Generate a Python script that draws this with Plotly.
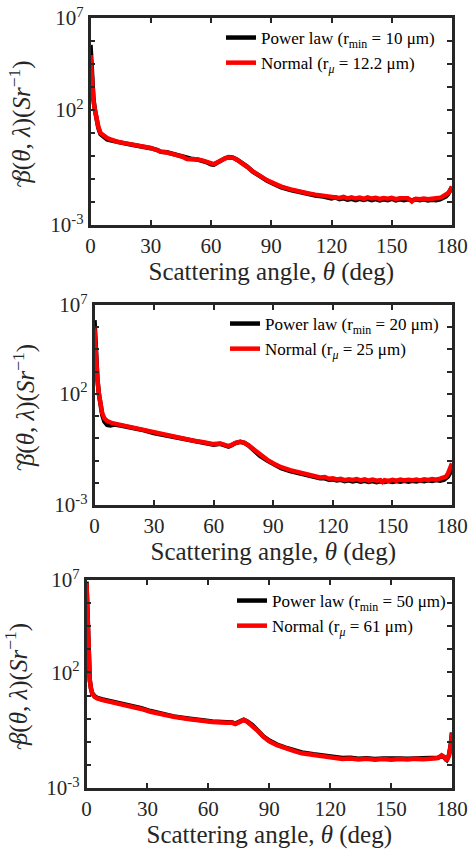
import numpy as np
import plotly.graph_objects as go

# ---------------- data (log10 of beta) ----------------
# Panel 1
theta_p1_red = [0, 0.5, 1, 1.5, 2.2, 3, 3.9, 5, 6.5, 8.3, 10, 13.3, 17, 20, 24, 27, 30, 33, 35, 38, 41, 43, 46, 48, 50, 53, 56, 58, 60, 61.4, 63, 65, 67, 69, 71, 73, 75, 78, 81, 84.7, 88, 91.3, 95, 99.7, 104, 108, 112, 116, 118, 120, 122, 124, 126, 128, 130, 132, 134, 136, 138, 140, 142, 144, 146, 148, 150, 152, 154, 156, 158, 159, 160, 161, 162, 164, 166, 168, 170, 172, 174, 175, 176, 177, 178, 179, 180]
logb_p1_red = [4.39, 3.6, 2.9, 2.4, 2.0, 1.6, 1.27, 1.0, 0.88, 0.78, 0.72, 0.62, 0.56, 0.52, 0.46, 0.40, 0.35, 0.26, 0.19, 0.15, 0.10, 0.04, -0.04, -0.13, -0.14, -0.14, -0.20, -0.26, -0.32, -0.35, -0.28, -0.17, -0.10, -0.06, -0.08, -0.17, -0.28, -0.47, -0.68, -0.90, -1.06, -1.19, -1.33, -1.45, -1.55, -1.62, -1.68, -1.72, -1.74, -1.78, -1.76, -1.82, -1.78, -1.84, -1.80, -1.85, -1.81, -1.86, -1.80, -1.85, -1.82, -1.87, -1.83, -1.86, -1.82, -1.88, -1.84, -1.86, -1.84, -1.90, -1.98, -1.90, -1.86, -1.88, -1.85, -1.88, -1.86, -1.87, -1.82, -1.78, -1.74, -1.70, -1.62, -1.50, -1.33]
theta_p1_black = [0, 0.5, 1, 1.5, 2.2, 3, 3.9, 5, 6.5, 8.3, 10, 13.3, 17, 20, 24, 27, 30, 33, 35, 38, 41, 43, 46, 48, 50, 53, 56, 58, 60, 61.4, 63, 65, 67, 69, 71, 73, 75, 78, 81, 84.7, 88, 91.3, 95, 99.7, 104, 108, 112, 116, 118, 120, 122, 124, 126, 128, 130, 132, 134, 136, 138, 140, 142, 144, 146, 148, 150, 152, 154, 156, 158, 160, 162, 164, 166, 168, 170, 172, 174, 176, 177, 178, 179, 180]
logb_p1_black = [4.83, 3.8, 3.0, 2.45, 2.0, 1.58, 1.22, 0.95, 0.82, 0.72, 0.68, 0.60, 0.55, 0.50, 0.45, 0.38, 0.34, 0.27, 0.18, 0.16, 0.08, 0.05, -0.05, -0.11, -0.12, -0.15, -0.21, -0.28, -0.36, -0.38, -0.30, -0.18, -0.10, -0.05, -0.07, -0.16, -0.27, -0.46, -0.69, -0.92, -1.08, -1.22, -1.36, -1.48, -1.58, -1.65, -1.72, -1.76, -1.80, -1.84, -1.80, -1.88, -1.84, -1.90, -1.86, -1.92, -1.86, -1.91, -1.86, -1.92, -1.87, -1.93, -1.88, -1.92, -1.86, -1.93, -1.88, -1.92, -1.88, -1.93, -1.88, -1.92, -1.88, -1.93, -1.90, -1.92, -1.88, -1.82, -1.76, -1.66, -1.52, -1.35]

# Panel 2
theta_p2_red = [0, 0.5, 1, 1.5, 2.2, 3, 3.9, 5, 6.4, 9, 13.1, 16, 19.8, 25, 29.8, 35, 39.8, 45, 49.9, 55, 60, 63.3, 65, 67.5, 69, 71, 73.4, 75.5, 77.5, 80, 83.4, 87, 90.1, 94, 98.5, 103, 106.9, 110, 113.6, 116, 118, 120, 122, 124, 126, 128, 130, 132, 134, 136, 138, 140, 142, 144, 145, 146, 148, 150, 152, 154, 156, 158, 160, 162, 164, 166, 168, 170, 172, 174, 176, 177, 178, 179, 180]
logb_p2_red = [4.95, 4.0, 3.2, 2.6, 2.02, 1.5, 1.12, 0.9, 0.78, 0.68, 0.60, 0.55, 0.49, 0.37, 0.25, 0.15, 0.07, -0.02, -0.11, -0.18, -0.26, -0.23, -0.27, -0.35, -0.30, -0.20, -0.16, -0.20, -0.31, -0.50, -0.76, -0.97, -1.13, -1.30, -1.43, -1.53, -1.61, -1.68, -1.76, -1.74, -1.82, -1.80, -1.85, -1.82, -1.88, -1.84, -1.87, -1.83, -1.89, -1.85, -1.90, -1.86, -1.91, -1.88, -1.96, -1.88, -1.92, -1.87, -1.91, -1.86, -1.90, -1.86, -1.89, -1.85, -1.89, -1.84, -1.87, -1.83, -1.86, -1.81, -1.78, -1.72, -1.58, -1.40, -1.13]
theta_p2_black = [0, 0.5, 1, 1.5, 2.2, 3, 3.9, 5, 6.4, 8, 10, 13.1, 16, 19.8, 25, 29.8, 35, 39.8, 45, 49.9, 55, 60, 63.3, 65, 67.5, 69, 71, 73.4, 75.5, 77.5, 80, 83.4, 87, 90.1, 94, 98.5, 103, 106.9, 110, 113.6, 116, 118, 120, 122, 124, 126, 128, 130, 132, 134, 136, 138, 140, 142, 144, 146, 148, 150, 152, 154, 156, 158, 160, 162, 164, 166, 168, 170, 172, 174, 176, 177, 178, 179, 180]
logb_p2_black = [5.32, 4.2, 3.3, 2.65, 2.0, 1.45, 1.05, 0.75, 0.60, 0.58, 0.62, 0.58, 0.53, 0.47, 0.36, 0.24, 0.14, 0.05, -0.03, -0.12, -0.20, -0.29, -0.25, -0.29, -0.37, -0.31, -0.21, -0.16, -0.20, -0.32, -0.52, -0.79, -1.00, -1.17, -1.34, -1.47, -1.57, -1.65, -1.72, -1.80, -1.80, -1.86, -1.85, -1.90, -1.87, -1.93, -1.89, -1.94, -1.90, -1.95, -1.91, -1.96, -1.92, -1.97, -1.93, -1.96, -1.92, -1.96, -1.92, -1.95, -1.91, -1.95, -1.91, -1.94, -1.90, -1.93, -1.89, -1.92, -1.88, -1.91, -1.86, -1.80, -1.72, -1.56, -1.38, -1.10]

# Panel 3
theta_p3_red = [0, 0.3, 0.66, 1, 1.6, 2.2, 2.8, 4, 5.3, 8, 11.8, 17, 23.3, 27, 31.5, 37, 42.9, 50, 56.1, 62, 69.2, 71.5, 73.3, 75, 77.4, 79, 81.5, 84, 87.2, 90, 93.8, 98, 102, 106, 111.8, 116, 121.6, 126, 130, 134, 138, 142, 146, 150, 154.4, 158, 162, 166, 170.8, 173, 174.9, 176, 177.4, 178.5, 179.3, 180]
logb_p3_red = [5.87, 5.0, 3.55, 2.6, 1.67, 1.3, 1.09, 0.95, 0.88, 0.80, 0.73, 0.62, 0.51, 0.42, 0.30, 0.19, 0.08, -0.01, -0.09, -0.14, -0.18, -0.17, -0.23, -0.15, -0.06, -0.12, -0.28, -0.50, -0.79, -0.98, -1.15, -1.29, -1.39, -1.50, -1.58, -1.64, -1.70, -1.74, -1.72, -1.77, -1.74, -1.78, -1.75, -1.78, -1.75, -1.77, -1.74, -1.76, -1.72, -1.70, -1.58, -1.65, -1.82, -1.60, -1.20, -0.63]
theta_p3_black = [0, 0.3, 0.66, 1, 1.6, 2.2, 2.8, 4, 5.3, 8, 11.8, 17, 23.3, 27, 31.5, 37, 42.9, 50, 56.1, 62, 69.2, 71.5, 73.3, 75, 77.4, 79, 81.5, 84, 87.2, 90, 93.8, 98, 102, 106, 111.8, 116, 121.6, 126, 130, 134, 138, 142, 146, 150, 154.4, 158, 162, 166, 170.8, 173, 174.9, 176, 177.4, 178.5, 179.3, 180]
logb_p3_black = [5.93, 5.1, 3.6, 2.62, 1.68, 1.3, 1.1, 0.97, 0.90, 0.83, 0.76, 0.66, 0.55, 0.45, 0.33, 0.21, 0.10, 0.01, -0.07, -0.12, -0.16, -0.16, -0.21, -0.14, -0.05, -0.11, -0.26, -0.48, -0.77, -0.95, -1.12, -1.25, -1.35, -1.46, -1.54, -1.60, -1.66, -1.70, -1.69, -1.73, -1.71, -1.74, -1.72, -1.74, -1.72, -1.73, -1.71, -1.73, -1.70, -1.69, -1.62, -1.66, -1.78, -1.58, -1.18, -0.60]

legend_black = ["Power law (r<sub>min</sub> = 10 μm)",
                "Power law (r<sub>min</sub> = 20 μm)",
                "Power law (r<sub>min</sub> = 50 μm)"]
legend_red = ["Normal (r<sub><i>μ</i></sub> = 12.2 μm)",
              "Normal (r<sub><i>μ</i></sub> = 25 μm)",
              "Normal (r<sub><i>μ</i></sub> = 61 μm)"]

x_ticks = [0, 30, 60, 90, 120, 150, 180]
y_tick_exps = [-3, -2, -1, 0, 1, 2, 3, 4, 5, 6]
y_tick_text = ["10<sup>-3</sup>", " ", " ", " ", " ", "10<sup>2</sup>", " ", " ", " ", "10<sup>7</sup>"]

x_title = "Scattering angle, <i>θ</i> (deg)"
y_title = "<i>β</i>(<i>θ</i>, <i>λ</i>)(<i>Sr</i><sup>−1</sup>)"
tilde_mark = "~"

# ---------------- layout geometry (window px) ----------------
W, H = 471, 850
panels = [  # (left, right, top, bottom)
    (90.5, 452, 18, 225),
    (94.5, 452, 305, 505),
    (86.5, 452, 580, 788),
]
legend_pos = [(221, 20), (225, 306), (232, 583)]

FONT = "Liberation Serif"
INK = "#262626"

def px_x(v):
    return v / W

def px_y(v):
    return 1 - v / H

data = [
    (theta_p1_black, logb_p1_black, theta_p1_red, logb_p1_red),
    (theta_p2_black, logb_p2_black, theta_p2_red, logb_p2_red),
    (theta_p3_black, logb_p3_black, theta_p3_red, logb_p3_red),
]

fig = go.Figure()
layout = dict(
    template="none",
    width=W, height=H, autosize=False,
    margin=dict(l=0, r=0, t=0, b=0, pad=0, autoexpand=False),
    paper_bgcolor="white", plot_bgcolor="white",
    font=dict(family=FONT, color=INK),
    showlegend=True,
)
annotations = []

for i, (tb, lb, tr, lr) in enumerate(data):
    k = "" if i == 0 else str(i + 1)
    lg = "legend" if i == 0 else f"legend{i+1}"
    fig.add_trace(go.Scatter(x=tb, y=np.power(10.0, lb), mode="lines",
                             line=dict(color="black", width=4.5),
                             name=legend_black[i], xaxis="x" + k, yaxis="y" + k, legend=lg))
    fig.add_trace(go.Scatter(x=tr, y=np.power(10.0, lr), mode="lines",
                             line=dict(color="#ff0000", width=4.5),
                             name=legend_red[i], xaxis="x" + k, yaxis="y" + k, legend=lg))
    l, r, t, b = panels[i]
    layout["xaxis" + k] = dict(
        domain=[px_x(l), px_x(r)], anchor="y" + k, range=[0, 180], automargin=False,
        tickmode="array", tickvals=x_ticks,
        ticks="inside", ticklen=5, tickwidth=2, tickcolor=INK,
        showline=True, linewidth=2.5, linecolor=INK, mirror="ticks",
        showgrid=False, zeroline=False,
        tickfont=dict(family=FONT, size=21, color=INK),
        title=dict(text=x_title, standoff=2,
                   font=dict(family=FONT, size=25, color=INK)),
    )
    layout["yaxis" + k] = dict(
        domain=[px_y(b), px_y(t)], anchor="x" + k, type="log", range=[-3, 6], automargin=False,
        tickmode="array", tickvals=[10.0 ** e for e in y_tick_exps], ticktext=y_tick_text,
        ticks="inside", ticklen=5, tickwidth=2, tickcolor=INK,
        showline=True, linewidth=2.5, linecolor=INK, mirror="ticks",
        showgrid=False, zeroline=False,
        tickfont=dict(family=FONT, size=21, color=INK),
        title=dict(text=y_title, standoff=13,
                   font=dict(family=FONT, size=25, color=INK)),
    )
    # tilde over beta (rotated title -> sits left of the beta glyph)
    yc = (t + b) / 2
    annotations.append(dict(
        text=tilde_mark, textangle=-90, showarrow=False,
        xref="paper", yref="paper", x=px_x(18), y=px_y(yc + 60),
        xanchor="center", yanchor="middle",
        font=dict(family=FONT, size=22, color=INK),
    ))
    lx, ly = legend_pos[i]
    layout[lg] = dict(
        x=px_x(lx), y=px_y(ly), xanchor="left", yanchor="top",
        bgcolor="rgba(0,0,0,0)", borderwidth=0,
        font=dict(family=FONT, size=17, color="black"),
        itemwidth=30, tracegroupgap=0,
    )

layout["annotations"] = annotations
fig.update_layout(**layout)
fig.write_html("out.html", config={"displayModeBar": False},
               post_script="document.body.style.margin='0px';document.body.style.overflow='hidden';")
